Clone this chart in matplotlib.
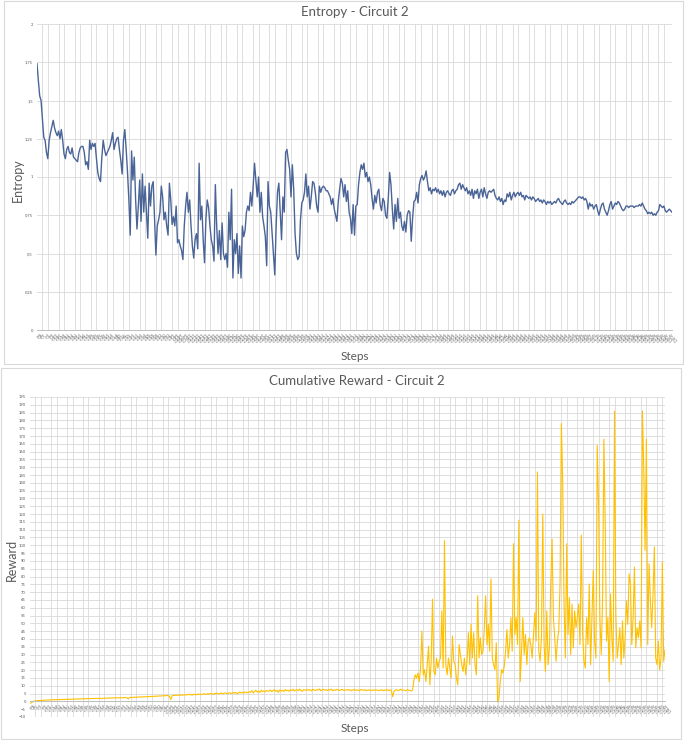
import matplotlib
matplotlib.use('Agg')
import matplotlib.pyplot as plt
from matplotlib.patches import Rectangle

# ---------------- data ----------------
entropy_part1 = [1.74,1.63,1.53,1.50,1.38,1.26,1.24,1.16,1.12,1.24,1.29,1.33,1.37,1.32,1.29,1.27,1.30,1.25,1.31,1.24,
    1.15,1.12,1.18,1.20,1.16,1.15,1.19,1.13,1.12,1.11,1.10,1.16,1.19,1.20,1.20,1.16,1.08,1.10,1.05,1.24,
    1.18,1.22,1.20,1.22,1.12,1.03,0.99,0.97,1.13,1.24,1.18,1.14,1.16,1.18,1.20,1.24,1.29,1.18,1.22,1.25,
    1.26,1.18,1.11,1.02,1.24,1.31,1.18,1.03,0.85,0.62,1.17,0.98,1.13,0.85,0.66,0.81,0.98,0.71,1.02,0.77,
    0.94,0.77,0.60,0.96,0.81,0.94,0.97,0.72,0.49,0.68,0.72,0.77,0.94,0.87,0.72,0.77,0.68,0.62,0.96,0.85,
    0.69,0.74,0.68,0.81,0.57,0.59,0.55,0.52,0.46,0.68,0.81,0.90,0.77,0.85,0.68,0.55,0.47,0.59,0.63,0.53,
    1.09,0.72,0.81,0.59,0.44,0.72,0.85,0.80,0.68,0.59,0.55,0.45,0.95,0.68,0.50,0.65,0.46,0.70,0.50,0.46,
    0.50,0.41,0.77,0.59,0.92,0.34,0.59,0.50,0.63,0.37,0.55,0.34,0.68,0.61,0.65,0.77,0.81,0.78,0.90,0.81,
    0.94,1.09,0.98,0.87,1.00,0.77,0.90,0.74,0.68,0.61,0.42,0.97,0.81,0.77,0.63,0.50,0.36,0.68,0.90,0.96,
    0.77,0.59,0.87,0.77,1.16,1.18,1.11,1.05,0.87,1.08,0.92,0.63,0.50,0.46,0.48,0.72,0.83,0.85,0.90,1.02,
    0.87,0.94,0.79,0.87,0.97,0.96,0.90,0.81,0.77,0.94,0.90,0.93,0.94,0.93,0.91]
entropy_part2 = [0.91,0.89,0.87,0.82,0.86,0.79,0.75,0.71,0.84,0.92,0.99,0.96,0.87,0.95,0.84,0.91,0.77,0.73,0.63,0.82,
    0.62,0.81,0.82,0.95,1.03,1.08,1.05,1.09,1.00,1.03,0.97,1.00,0.95,0.86,0.79,0.88,0.83,0.90,0.92,0.82,
    0.78,0.86,0.84,0.75,0.73,0.86,1.03,0.95,0.79,0.66,0.82,0.71,0.86,0.73,0.77,0.68,0.65,0.71,0.64,0.75,
    0.78,0.77,0.58,0.73,0.84,0.85,0.90,0.83,0.95,0.99,1.01,0.98,1.00,1.04,0.97,0.91,0.93,0.89,0.92,0.91,
    0.93,0.90,0.92,0.89,0.91,0.88,0.91,0.87,0.90,0.91,0.89,0.88,0.91,0.92,0.89,0.91,0.92,0.95,0.96,0.92,
    0.95,0.93,0.91,0.93,0.89,0.91,0.88,0.92,0.86,0.91,0.89,0.92,0.86,0.90,0.92,0.87,0.93,0.89,0.86,0.90,
    0.91,0.90,0.91,0.92,0.88,0.86,0.85,0.87,0.84,0.86,0.82,0.85,0.84,0.89,0.87,0.90,0.85,0.88,0.90,0.87,
    0.89,0.90,0.88,0.90,0.87,0.88,0.85,0.88,0.87,0.86,0.87,0.85,0.87,0.86,0.84,0.85,0.86,0.84,0.85,0.83,
    0.85,0.84,0.82,0.84,0.83,0.84,0.82,0.83,0.84,0.83,0.85,0.86,0.84,0.83,0.82,0.84,0.85,0.83,0.82,0.83,
    0.82,0.84,0.83,0.84,0.85,0.86,0.87,0.87,0.86,0.87,0.85,0.86,0.84,0.79,0.83,0.81,0.82,0.79,0.81,0.82,
    0.78,0.75,0.79,0.82,0.83,0.79,0.77,0.75,0.78,0.82,0.84,0.79,0.81,0.83,0.82,0.84,0.83,0.81,0.79,0.78,
    0.79,0.81,0.81,0.80,0.81,0.81,0.81,0.80,0.81,0.81,0.81,0.82,0.81,0.83,0.81,0.79,0.78,0.76,0.77,0.76,
    0.77,0.75,0.76,0.75,0.77,0.78,0.82,0.81,0.80,0.81,0.78,0.77,0.78,0.79,0.78,0.77]

reward_part1 = [-1.3,-0.8,-0.4,0.1,0.3,0.4,0.5,0.6,0.6,0.7,0.7,0.8,0.8,0.9,0.9,
    0.9,1.0,1.0,1.1,1.0,1.1,1.2,1.1,1.2,1.2,1.3,1.2,1.3,1.3,1.4,
    1.4,1.3,1.5,1.4,1.5,1.6,1.5,1.6,1.5,1.7,1.6,1.7,1.7,1.8,1.7,
    1.8,1.8,1.9,1.8,1.9,1.9,2.0,1.9,2.0,1.6,2.0,2.1,2.0,2.1,2.1,
    2.2,2.1,2.2,2.2,2.3,2.2,2.3,2.3,2.4,2.3,2.4,2.4,2.5,2.3,1.6,
    2.5,2.6,2.5,2.7,2.6,2.8,2.7,2.8,2.9,2.8,2.9,3.0,2.9,3.0,3.1,
    3.0,3.2,3.1,3.3,3.2,3.4,3.3,3.5,3.4,3.6,3.5,3.7,3.6,3.8,3.7,
    3.2,1.2,3.6,3.9,3.8,4.0,3.9,4.1,3.8,4.2,4.0,4.3,4.1,4.2,4.4,
    4.3,4.5,3.9,4.6,4.4,4.2,4.7,4.5,4.8,4.3,4.6,4.9,4.5,4.7,5.0,
    4.6,5.1,4.8,4.4,5.2,4.9,5.3,4.7,5.0,5.4,4.8,5.2,5.5,5.1,4.9,
    5.6,5.2,5.0,5.7,5.3,5.8,4.8,5.5,6.0,5.4,5.9,5.2,6.1,5.7,5.5,
    6.2,5.8,6.9,5.4,6.4,7.1,6.0,6.6,5.7,7.2,6.3,6.8,6.1,7.0,6.5,
    6.7,7.3,6.2,6.9,7.5,6.4,7.0,5.8,7.4,6.6,7.1,6.3,7.6,6.8,7.2,
    6.5,7.4,6.9,7.8,6.6,7.2,7.5,6.8,7.9,7.0,6.4,7.6,7.3,6.9,7.7,
    7.1,7.5,6.7,7.8,7.2,6.9,7.6,7.3,8.0,6.8,7.4,7.7,7.1,7.5,6.9,
    7.6,7.2,7.9,6.8,7.4,7.1,7.7,7.3,6.9,7.5,7.8,7.0,7.4,7.2,7.6,
    7.1,7.5,6.8,7.3,7.7,7.0,7.4,7.2,6.9,7.6,7.3,7.1,7.5,6.8,7.2,
    7.4,7.0,7.3,6.9,7.5,7.1,7.3,7.0]
reward_part2 = [7.2,7.0,7.5,6.8,7.3,7.1,7.6,6.9,7.4,7.0,3.0,6.5,7.2,7.5,6.9,7.3,7.8,7.0,7.4,7.1,6.8,7.5,7.2,7.0,6.6,7.3,
    13.8,17.0,14.9,18.1,12.7,21.3,45.0,17.0,20.3,12.7,23.5,35.4,10.6,25.7,65.5,19.2,17.0,27.8,21.3,25.7,
    27.8,58.0,21.3,103.0,23.5,17.0,27.8,21.3,14.9,41.8,25.7,23.5,14.9,10.6,36.4,30.0,23.5,19.2,27.8,17.0,
    25.7,44.0,23.5,49.4,27.8,44.0,23.5,17.0,67.7,27.8,40.8,30.0,32.1,47.2,67.7,36.4,49.4,32.1,78.5,27.8,
    23.5,20.3,37.5,-0.5,1.9,12.7,20.3,18.1,22.4,32.1,46.0,27.8,36.4,53.7,32.1,101.0,42.9,53.7,36.4,116.0,
    12.7,32.1,53.7,30.0,42.9,23.5,38.6,40.8,36.4,27.8,42.9,56.9,38.6,147.0,32.1,25.7,40.8,120.0,36.4,19.2,
    58.0,23.5,34.3,75.2,104.0,53.7,40.8,25.7,38.6,45.0,75.2,178.0,140.0,62.3,27.8,101.0,42.9,66.6,30.0,62.3,
    34.3,58.0,47.2,53.7,62.3,36.4,106.5,42.9,25.7,21.3,53.7,36.4,75.2,23.5,53.7,83.9,38.6,27.8,164.0,125.0,
    53.7,30.0,64.5,168.0,114.0,38.6,53.7,12.7,68.8,40.8,25.7,186.0,55.8,27.8,36.4,47.2,23.5,51.5,27.8,40.8,
    64.5,49.4,81.7,75.2,36.4,53.7,86.0,34.3,47.2,40.8,51.5,34.3,186.0,150.0,96.8,168.0,36.4,88.2,64.5,47.2,
    68.8,99.0,27.8,23.5,38.6,20.3,27.8,89.3,25.7,33.2]

entropy = entropy_part1 + entropy_part2
reward = reward_part1 + reward_part2
entropy_steps = list(range(1, len(entropy) + 1))
reward_steps = list(range(1, len(reward) + 1))

entropy_yticks = [0, 0.25, 0.5, 0.75, 1, 1.25, 1.5, 1.75, 2]
entropy_yticklabels = ['0', '0,25', '0,5', '0,75', '1', '1,25', '1,5', '1,75', '2']
reward_yticks = list(range(-10, 200, 5))

# ---------------- styling ----------------
plt.rcParams['font.family'] = ['Lato', 'DejaVu Sans']
W, H = 685, 740
GRID = '#D9D9D9'
TXT = '#595959'
BLUE = '#4A6497'
GOLD = '#FFC000'

fig = plt.figure(figsize=(W / 100, H / 100), dpi=100)


def rect(l, t, r, b):
    return [l / W, 1 - b / H, (r - l) / W, (b - t) / H]


def frame(l, t, r, b):
    fig.patches.append(Rectangle((l / W, 1 - b / H), (r - l) / W, (b - t) / H,
                                 transform=fig.transFigure, fill=False,
                                 edgecolor='#D9D9D9', lw=0.8))


def style(ax, steps, label_every=3, grid_every=4):
    for s in ['top', 'right', 'left']:
        ax.spines[s].set_visible(False)
    ax.spines['bottom'].set_color('#BFBFBF')
    ax.spines['bottom'].set_linewidth(0.7)
    idx = list(range(0, len(steps), label_every))
    ax.set_xticks([steps[i] for i in idx])
    ax.set_xticklabels([str(steps[i] * 10) for i in idx], rotation=-45,
                       ha='left', va='top', rotation_mode='anchor',
                       fontsize=3.4, color='#7F7F7F')
    ax.set_xticks([steps[i] for i in range(0, len(steps), grid_every)], minor=True)
    ax.tick_params(axis='x', which='both', length=0, pad=2)
    ax.tick_params(axis='y', length=0, pad=3, labelsize=3, labelcolor=TXT)
    ax.yaxis.grid(True, color=GRID, lw=0.6)
    ax.xaxis.grid(True, which='minor', color=GRID, lw=0.6)
    ax.set_axisbelow(True)
    ax.set_xlim(steps[0], steps[-1])


# frames of the two chart cards
frame(4, 1, 683, 364)
frame(1, 368, 681, 739)

# ---- Entropy chart ----
ax1 = fig.add_axes(rect(37, 24, 672, 330))
ax1.plot(entropy_steps, entropy, color=BLUE, lw=1.0)
ax1.set_ylim(0, 2)
ax1.set_yticks(entropy_yticks)
ax1.set_yticklabels(entropy_yticklabels)
style(ax1, entropy_steps)
fig.text(355 / W, 1 - 12 / H, 'Entropy - Circuit 2', ha='center', va='center',
         fontsize=9.5, color=TXT)
fig.text(18 / W, 1 - 180 / H, 'Entropy', ha='center', va='center',
         rotation=90, fontsize=9, color=TXT)
fig.text(355 / W, 1 - 356 / H, 'Steps', ha='center', va='center',
         fontsize=8.5, color=TXT)

# ---- Reward chart ----
ax2 = fig.add_axes(rect(30, 397, 665, 717))
ax2.spines['bottom'].set_position(('data', 0))
ax2.plot(reward_steps, reward, color=GOLD, lw=0.8)
ax2.set_ylim(-10, 195)
ax2.set_yticks(reward_yticks)
style(ax2, reward_steps)
fig.text(357 / W, 1 - 381 / H, 'Cumulative Reward - Circuit 2', ha='center',
         va='center', fontsize=9.5, color=TXT)
fig.text(12 / W, 1 - 560 / H, 'Reward', ha='center', va='center',
         rotation=90, fontsize=9, color=TXT)
fig.text(355 / W, 1 - 728 / H, 'Steps', ha='center', va='center',
         fontsize=8.5, color=TXT)

fig.savefig('out.png', dpi=100, facecolor='white')
